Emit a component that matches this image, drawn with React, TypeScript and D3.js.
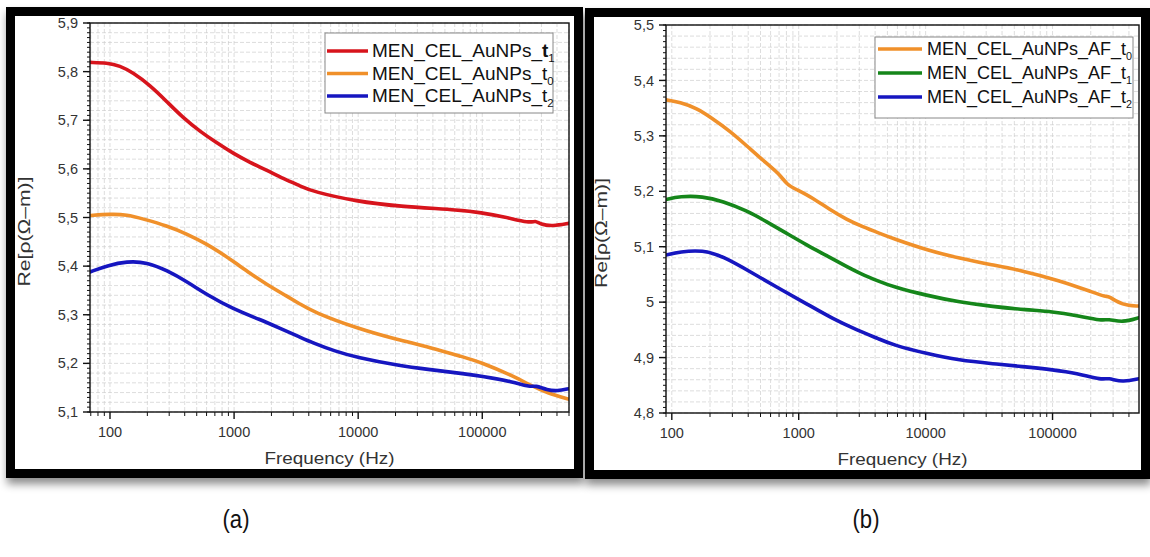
import React from 'react';
import * as d3 from 'd3';

// ---------- data ----------
const xTickValues = [100, 1000, 10000, 100000];
const yTicksA = [5.1, 5.2, 5.3, 5.4, 5.5, 5.6, 5.7, 5.8, 5.9];
const yTicksB = [4.8, 4.9, 5.0, 5.1, 5.2, 5.3, 5.4, 5.5];

// panel (a)
const freqA_t1 = [69, 95, 120, 153, 210, 288, 388, 532, 729, 982, 1346, 1843, 2483, 3400, 4335, 9800, 20600, 70300, 96000, 147600, 244000, 267000, 294000, 367000, 500000];
const valA_t1 = [5.819, 5.818, 5.812, 5.798, 5.772, 5.738, 5.705, 5.677, 5.653, 5.632, 5.613, 5.597, 5.58, 5.565, 5.553, 5.533, 5.523, 5.515, 5.51, 5.502, 5.488, 5.494, 5.486, 5.482, 5.488];

const freqA_t0 = [69, 100, 137, 185, 288, 418, 605, 771, 982, 1346, 1843, 2673, 3400, 4335, 9800, 20600, 38000, 70300, 96000, 177800, 244000, 334000, 500000];
const valA_t0 = [5.504, 5.507, 5.506, 5.497, 5.483, 5.466, 5.445, 5.428, 5.41, 5.385, 5.362, 5.338, 5.322, 5.306, 5.272, 5.249, 5.233, 5.213, 5.203, 5.174, 5.155, 5.139, 5.126];

const freqA_t2 = [69, 95, 137, 199, 288, 418, 605, 982, 1622, 2350, 3400, 4335, 6500, 9800, 20600, 38000, 70300, 96000, 177800, 244000, 267000, 334000, 402000, 500000];
const valA_t2 = [5.388, 5.401, 5.41, 5.408, 5.391, 5.368, 5.341, 5.312, 5.29, 5.272, 5.254, 5.242, 5.225, 5.212, 5.196, 5.187, 5.179, 5.174, 5.162, 5.151, 5.155, 5.145, 5.143, 5.148];

// panel (b)
const freqB_t0 = [90, 116, 157, 210, 286, 390, 521, 708, 805, 964, 1290, 1754, 2388, 3192, 4347, 5500, 10180, 18530, 33700, 55000, 113500, 206500, 266000, 272000, 355600, 480000];
const valB_t0 = [5.365, 5.361, 5.35, 5.331, 5.309, 5.282, 5.256, 5.231, 5.212, 5.203, 5.188, 5.167, 5.149, 5.136, 5.124, 5.115, 5.094, 5.079, 5.067, 5.058, 5.039, 5.018, 5.009, 5.012, 4.994, 4.993];

const freqB_t1 = [90, 116, 175, 252, 390, 560, 805, 1156, 1660, 2388, 3020, 4347, 5500, 10180, 18530, 33700, 62400, 100000, 154500, 247700, 272000, 355600, 480000];
const valB_t1 = [5.185, 5.191, 5.191, 5.182, 5.165, 5.145, 5.124, 5.103, 5.084, 5.064, 5.052, 5.037, 5.028, 5.012, 5.0, 4.992, 4.986, 4.983, 4.976, 4.966, 4.97, 4.963, 4.972];

const freqB_t2 = [90, 116, 175, 252, 435, 708, 1156, 1853, 2863, 4347, 5500, 10180, 18530, 33700, 62400, 100000, 154500, 247700, 272000, 355600, 480000];
const valB_t2 = [5.085, 5.091, 5.094, 5.083, 5.052, 5.024, 4.997, 4.97, 4.95, 4.933, 4.923, 4.907, 4.895, 4.889, 4.883, 4.878, 4.872, 4.859, 4.864, 4.855, 4.862];

const namesA = ['MEN_CEL_AuNPs_', 'MEN_CEL_AuNPs_', 'MEN_CEL_AuNPs_'];
const subsA = ['1', '0', '2'];
const namesB = ['MEN_CEL_AuNPs_AF_', 'MEN_CEL_AuNPs_AF_', 'MEN_CEL_AuNPs_AF_'];
const subsB = ['0', '1', '2'];

const RED = '#d7141c';
const ORANGE = '#f0902a';
const BLUE = '#1616c0';
const GREEN = '#15861a';

const FONT = '"Liberation Sans", Arial, sans-serif';

type Series = { name: string; sub: string; bold?: boolean; color: string; f: number[]; v: number[] };

type PanelProps = {
  frame: { x: number; y: number; w: number; h: number };
  plot: { x0: number; x1: number; y0: number; y1: number };
  xDomain: [number, number];
  yDomain: [number, number];
  yTicks: number[];
  series: Series[];
  ylabX: number;
  legend: { x: number; y: number; w: number; h: number; l0: number; l1: number; tx: number; baselines: number[]; fs: number };
};

const fmtY = (v: number) => {
  let s = v.toFixed(1);
  if (s.endsWith('.0')) s = s.slice(0, -2);
  return s.replace('.', ',');
};

function Panel({ frame, plot, xDomain, yDomain, yTicks, series, legend, ylabX }: PanelProps) {
  const xs = d3.scaleLog().domain(xDomain).range([plot.x0, plot.x1]);
  const ys = d3.scaleLinear().domain(yDomain).range([plot.y1, plot.y0]);

  const minorX: number[] = [];
  for (let k = 1; k <= 6; k++) {
    for (let m = 1; m <= 9; m++) {
      const v = m * Math.pow(10, k);
      if (v >= xDomain[0] && v <= xDomain[1] && !xTickValues.includes(v)) minorX.push(v);
    }
  }
  const minorY = d3.range(Math.round(yDomain[0] * 100), Math.round(yDomain[1] * 100) + 1).map((d) => d / 100);
  const gridY = d3.range(Math.round(yDomain[0] * 50), Math.round(yDomain[1] * 50) + 1).map((d) => d / 50);

  const makePath = (s: Series) => {
    const pts: [number, number][] = s.f.map((f, i) => [xs(f), ys(s.v[i])]);
    return d3.line().curve(d3.curveBasis)(pts) || '';
  };

  const clipId = `clip${plot.x0}`;
  const cx = (plot.x0 + plot.x1) / 2;

  return (
    <g>
      <rect x={frame.x} y={frame.y} width={frame.w} height={frame.h} fill="#fff" filter="url(#shadow)" />
      <defs>
        <clipPath id={clipId}>
          <rect x={plot.x0} y={plot.y0} width={plot.x1 - plot.x0} height={plot.y1 - plot.y0} />
        </clipPath>
      </defs>
      {/* grid */}
      <g stroke="#b4b4b4" strokeWidth={0.7} strokeDasharray="4 2" opacity={0.65}>
        {[...minorX, ...xTickValues.filter((v) => v > xDomain[0] && v < xDomain[1])].map((v, i) => (
          <line key={'gx' + i} x1={xs(v)} x2={xs(v)} y1={plot.y0} y2={plot.y1} />
        ))}
        {gridY.map((v, i) => (
          <line key={'gy' + i} x1={plot.x0} x2={plot.x1} y1={ys(v)} y2={ys(v)} />
        ))}
      </g>
      {/* curves */}
      <g clipPath={`url(#${clipId})`}>
        {series.map((s, i) => (
          <path key={i} d={makePath(s)} fill="none" stroke={s.color} strokeWidth={3.6} strokeLinejoin="round" strokeLinecap="round" />
        ))}
      </g>
      {/* box */}
      <rect x={plot.x0} y={plot.y0} width={plot.x1 - plot.x0} height={plot.y1 - plot.y0} fill="none" stroke="#111" strokeWidth={1.4} />
      {/* ticks */}
      <g stroke="#111" strokeWidth={1}>
        {minorY.map((v, i) => (
          <line key={'my' + i} x1={plot.x0 - 3} x2={plot.x0} y1={ys(v)} y2={ys(v)} />
        ))}
        {yTicks.map((v, i) => (
          <line key={'My' + i} x1={plot.x0 - 7} x2={plot.x0} y1={ys(v)} y2={ys(v)} strokeWidth={1.4} />
        ))}
        {minorX.map((v, i) => (
          <line key={'mx' + i} x1={xs(v)} x2={xs(v)} y1={plot.y1} y2={plot.y1 + 4} />
        ))}
        {xTickValues.map((v, i) => (
          <line key={'Mx' + i} x1={xs(v)} x2={xs(v)} y1={plot.y1} y2={plot.y1 + 7} strokeWidth={1.4} />
        ))}
      </g>
      <g fontFamily={FONT} fontSize={14.5} fill="#333">
        {yTicks.map((v, i) => (
          <text key={'ly' + i} x={plot.x0 - 12} y={ys(v)} dy="0.35em" textAnchor="end">
            {fmtY(v)}
          </text>
        ))}
        {xTickValues.map((v, i) => (
          <text key={'lx' + i} x={xs(v)} y={plot.y1 + 25} textAnchor="middle">
            {String(v)}
          </text>
        ))}
      </g>
      <text x={cx} y={plot.y1 + 52} textAnchor="middle" fontFamily={FONT} fontSize={16.5} fill="#333" textLength={130} lengthAdjust="spacingAndGlyphs">
        Frequency (Hz)
      </text>
      <text
        transform={`translate(${ylabX},${(plot.y0 + plot.y1) / 2 + 14}) rotate(-90)`}
        textAnchor="middle"
        fontFamily={FONT}
        fontSize={17}
        fill="#333"
        textLength={110}
        lengthAdjust="spacingAndGlyphs"
      >
        Re[ρ(Ω–m)]
      </text>
      {/* legend */}
      <rect x={legend.x} y={legend.y} width={legend.w} height={legend.h} fill="#fff" stroke="#888" strokeWidth={1} />
      {series.map((s, i) => (
        <g key={'lg' + i}>
          <line x1={legend.l0} x2={legend.l1} y1={legend.baselines[i] - 6} y2={legend.baselines[i] - 6} stroke={s.color} strokeWidth={3.6} />
          <text x={legend.tx} y={legend.baselines[i]} fontFamily={FONT} fontSize={legend.fs} fill="#111">
            {s.name}
            <tspan fontWeight={s.bold ? 'bold' : 'normal'}>t</tspan>
            <tspan fontSize={legend.fs * 0.6} dy={5}>
              {s.sub}
            </tspan>
          </text>
        </g>
      ))}
      {/* outer frame */}
      <rect x={frame.x + 4.5} y={frame.y + 4.5} width={frame.w - 9} height={frame.h - 9} fill="none" stroke="#000" strokeWidth={9} />
    </g>
  );
}

const CAPTION_FONT = '"Liberation Sans", Arial, sans-serif';

export default function App() {
  const seriesA: Series[] = [
    { name: namesA[0], sub: subsA[0], bold: true, color: RED, f: freqA_t1, v: valA_t1 },
    { name: namesA[1], sub: subsA[1], color: ORANGE, f: freqA_t0, v: valA_t0 },
    { name: namesA[2], sub: subsA[2], color: BLUE, f: freqA_t2, v: valA_t2 },
  ];
  const seriesB: Series[] = [
    { name: namesB[0], sub: subsB[0], color: ORANGE, f: freqB_t0, v: valB_t0 },
    { name: namesB[1], sub: subsB[1], color: GREEN, f: freqB_t1, v: valB_t1 },
    { name: namesB[2], sub: subsB[2], color: BLUE, f: freqB_t2, v: valB_t2 },
  ];
  return (
    <svg width={1150} height={557} style={{ position: 'absolute', left: 0, top: 0, background: '#fff' }}>
      <defs>
        <filter id="shadow" x="-5%" y="-5%" width="110%" height="115%">
          <feDropShadow dx={1} dy={6} stdDeviation={4} floodColor="#000" floodOpacity={0.45} />
        </filter>
      </defs>
      <Panel
        frame={{ x: 6, y: 7, w: 577, h: 471 }}
        plot={{ x0: 90, x1: 569, y0: 23, y1: 412 }}
        xDomain={[69, 500000]}
        yDomain={[5.1, 5.9]}
        yTicks={yTicksA}
        series={seriesA}
        ylabX={30}
        legend={{ x: 325, y: 33, w: 228, h: 80, l0: 327, l1: 368, tx: 372, baselines: [57, 79.5, 102], fs: 19 }}
      />
      <Panel
        frame={{ x: 585, y: 8, w: 565, h: 471 }}
        plot={{ x0: 666, x1: 1139, y0: 25, y1: 413 }}
        xDomain={[90, 480000]}
        yDomain={[4.8, 5.5]}
        yTicks={yTicksB}
        series={seriesB}
        ylabX={607}
        legend={{ x: 875, y: 37, w: 258, h: 81, l0: 878, l1: 922, tx: 927, baselines: [55, 79, 103], fs: 18 }}
      />
      <text transform="translate(236,528) scale(0.85,1)" textAnchor="middle" fontFamily={CAPTION_FONT} fontSize={26} fill="#111">
        (a)
      </text>
      <text transform="translate(866,528) scale(0.85,1)" textAnchor="middle" fontFamily={CAPTION_FONT} fontSize={26} fill="#111">
        (b)
      </text>
    </svg>
  );
}
